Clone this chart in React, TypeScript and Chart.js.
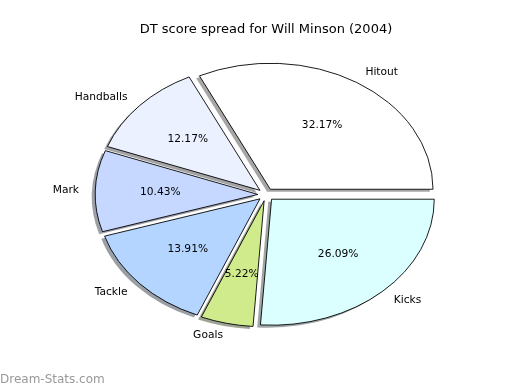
import React, { useEffect, useRef } from 'react';
import { Chart, registerables } from 'chart.js';

Chart.register(...registerables);

// ---- data (matplotlib order: counter-clockwise from 3 o'clock) ----
const categories = ['Hitout', 'Handballs', 'Mark', 'Tackle', 'Goals', 'Kicks'];
const values = [37, 14, 12, 16, 6, 30];
const sliceColors = ['#ffffff', '#ebf1ff', '#c6d8ff', '#b4d5ff', '#d0eb8c', '#dbffff'];
const titleText = 'DT score spread for Will Minson (2004)';
const watermarkText = 'Dream-Stats.com';

// ---- styling constants ----
const EXPLODE = 0.05;
const SHADOW = 0.02;
const ASPECT = 0.7745;
const LABEL_DIST = 1.1;
const PCT_DIST = 0.6;
const FONT = '"DejaVu Sans", sans-serif';

// Chart.js goes clockwise, so reverse the order
const chartLabels = [...categories].reverse();
const chartValues = [...values].reverse();
const chartColors = [...sliceColors].reverse();
const total = values.reduce((a, b) => a + b, 0);

function shadowColor(hex: string): string {
  const h = hex.replace('#', '');
  const r = parseInt(h.slice(0, 2), 16);
  const g = parseInt(h.slice(2, 4), 16);
  const b = parseInt(h.slice(4, 6), 16);
  return `rgba(${Math.round(r * 0.3)},${Math.round(g * 0.3)},${Math.round(b * 0.3)},0.5)`;
}

const mplPiePlugin = {
  id: 'mplPie',
  beforeDatasetDraw(chart: any, args: any) {
    const meta = chart.getDatasetMeta(args.index);
    const ctx: CanvasRenderingContext2D = chart.ctx;
    const arcs = meta.data as any[];
    if (!arcs.length) return false;
    const cx = arcs[0].x;
    const cy = arcs[0].y;

    ctx.save();
    ctx.translate(cx, cy);
    ctx.scale(1, ASPECT);
    ctx.translate(-cx, -cy);

    // shadows (all below wedges)
    arcs.forEach((arc) => {
      const { x, y, startAngle, endAngle, outerRadius } = arc.getProps(
        ['x', 'y', 'startAngle', 'endAngle', 'outerRadius'], true);
      const mid = (startAngle + endAngle) / 2;
      const t = EXPLODE * outerRadius;
      ctx.save();
      ctx.translate(t * Math.cos(mid) - SHADOW * outerRadius, t * Math.sin(mid) + SHADOW * outerRadius);
      ctx.beginPath();
      ctx.moveTo(x, y);
      ctx.arc(x, y, outerRadius, startAngle, endAngle);
      ctx.closePath();
      ctx.fillStyle = shadowColor(arc.options.backgroundColor);
      ctx.fill();
      ctx.restore();
    });

    // wedges (exploded)
    arcs.forEach((arc) => {
      const { startAngle, endAngle, outerRadius } = arc.getProps(
        ['startAngle', 'endAngle', 'outerRadius'], true);
      const mid = (startAngle + endAngle) / 2;
      const t = EXPLODE * outerRadius;
      ctx.save();
      ctx.translate(t * Math.cos(mid), t * Math.sin(mid));
      arc.draw(ctx);
      ctx.restore();
    });
    ctx.restore();

    // labels and percentages
    ctx.save();
    ctx.fillStyle = '#000';
    ctx.font = `10.67px ${FONT}`;
    ctx.textBaseline = 'middle';
    arcs.forEach((arc, i) => {
      const { x, y, startAngle, endAngle, outerRadius } = arc.getProps(
        ['x', 'y', 'startAngle', 'endAngle', 'outerRadius'], true);
      const mid = (startAngle + endAngle) / 2;
      const t = EXPLODE * outerRadius;
      const c = Math.cos(mid);
      const s = Math.sin(mid);
      const lx = x + (t + LABEL_DIST * outerRadius) * c;
      const ly = y + ASPECT * (t + LABEL_DIST * outerRadius) * s;
      ctx.textAlign = c > 0 ? 'left' : 'right';
      ctx.fillText(chartLabels[i], lx, ly);
      const px = x + (t + PCT_DIST * outerRadius) * c;
      const py = y + ASPECT * (t + PCT_DIST * outerRadius) * s;
      ctx.textAlign = 'center';
      ctx.fillText(((chartValues[i] / total) * 100).toFixed(2) + '%', px, py);
    });
    ctx.restore();
    return false;
  },
  afterDraw(chart: any) {
    const ctx: CanvasRenderingContext2D = chart.ctx;
    ctx.save();
    ctx.fillStyle = '#000';
    ctx.font = `13px ${FONT}`;
    ctx.textAlign = 'center';
    ctx.textBaseline = 'middle';
    ctx.fillText(titleText, 266, 30);
    ctx.fillStyle = '#999999';
    ctx.font = `12px ${FONT}`;
    ctx.textAlign = 'left';
    ctx.fillText(watermarkText, 0, 380);
    ctx.restore();
  },
};

export default function App() {
  const canvasRef = useRef<HTMLCanvasElement | null>(null);

  useEffect(() => {
    if (!canvasRef.current) return;
    const chart = new Chart(canvasRef.current, {
      type: 'pie',
      data: {
        labels: chartLabels,
        datasets: [
          {
            data: chartValues,
            backgroundColor: chartColors,
            borderColor: '#000000',
            borderWidth: 1,
            borderJoinStyle: 'miter',
            radius: 162.7,
            offset: 0,
            hoverOffset: 0,
            clip: false,
          } as any,
        ],
      },
      options: {
        responsive: false,
        animation: false,
        devicePixelRatio: 1,
        rotation: 90,
        events: [],
        layout: { padding: { left: 12, right: 0, top: 0, bottom: 0.8 } },
        plugins: {
          legend: { display: false },
          tooltip: { enabled: false },
          title: { display: false },
        },
      },
      plugins: [mplPiePlugin],
    });
    return () => chart.destroy();
  }, []);

  return (
    <div style={{ position: 'absolute', left: 0, top: 0, width: 520, height: 390, background: '#fff' }}>
      <canvas ref={canvasRef} width={520} height={390} style={{ display: 'block' }} />
    </div>
  );
}
